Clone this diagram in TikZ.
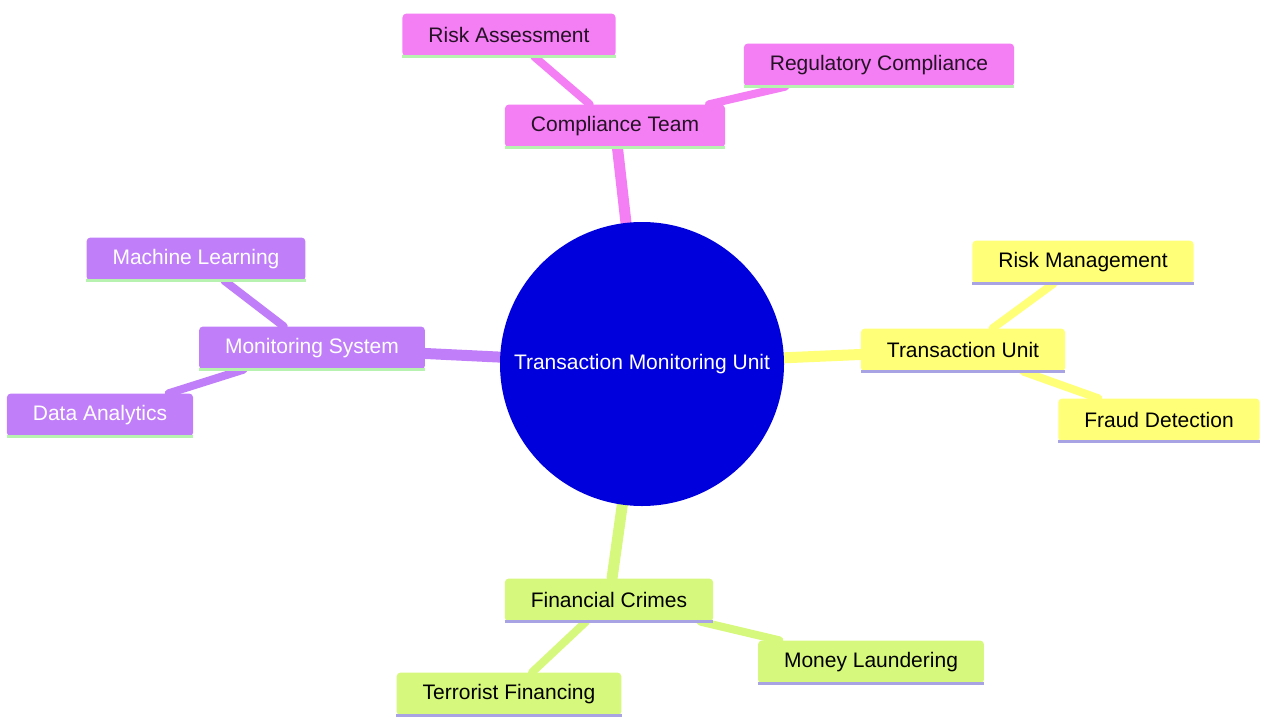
\documentclass[tikz,border=0pt]{standalone}
\usepackage{fontspec}
\setmainfont{Liberation Sans}
\usetikzlibrary{backgrounds}

\definecolor{rosa}{HTML}{F47EF4}
\definecolor{morado}{HTML}{C07FF8}
\definecolor{amarillo}{HTML}{FFFF78}
\definecolor{verde}{HTML}{D6F87C}
\definecolor{azul}{HTML}{0000DD}
\definecolor{lineaverde}{HTML}{B8F2B0}
\definecolor{linealila}{HTML}{A8A4E4}

\tikzset{
  caja/.style 2 args={rectangle, rounded corners=4pt, minimum height=43pt,
    inner xsep=26pt, inner ysep=0pt, fill=#1,
    font=\fontsize{21}{25}\selectfont,
    append after command={(\tikzlastnode.south west) edge[draw=#2, line width=3pt]
      (\tikzlastnode.south east)}},
  nrosa/.style={caja={rosa}{lineaverde}, text=black!85!rosa},
  nmorado/.style={caja={morado}{lineaverde}, text=white},
  namarillo/.style={caja={amarillo}{linealila}, text=black},
  nverde/.style={caja={verde}{linealila}, text=black},
  raiz/.style={circle, fill=azul, text=white, minimum size=284pt,
    font=\fontsize{21}{25}\selectfont},
  rama/.style={line width=#1, line cap=round}
}

\begin{document}
\begin{tikzpicture}[x=1pt, y=-1pt]
  \useasboundingbox (0,0) rectangle (1261,718);

  % nodos
  \node [raiz] (tmu) at (642,364) {Transaction Monitoring Unit};

  \node [nrosa] (ct) at (615,126) {Compliance Team};
  \node [nrosa] (ra) at (509,35) {Risk Assessment};
  \node [nrosa] (rc) at (879,65) {Regulatory Compliance};

  \node [nmorado] (ms) at (312,348) {Monitoring System};
  \node [nmorado] (ml) at (196,259) {Machine Learning};
  \node [nmorado] (da) at (100,415) {Data Analytics};

  \node [namarillo] (tu) at (963,350) {Transaction Unit};
  \node [namarillo] (rm) at (1083,262) {Risk Management};
  \node [namarillo] (fd) at (1159,420) {Fraud Detection};

  \node [nverde] (fc) at (609,600) {Financial Crimes};
  \node [nverde] (mlaund) at (871,662) {Money Laundering};
  \node [nverde] (tf) at (509,694) {Terrorist Financing};

  % ramas
  \begin{pgfonlayer}{background}
    \path [rama=11pt]
      (tmu) edge [draw=rosa] (ct)
      (tmu) edge [draw=morado] (ms)
      (tmu) edge [draw=amarillo] (tu)
      (tmu) edge [draw=verde] (fc);
    \path [rama=8pt, draw=rosa]
      (ct) edge (ra)
      (ct) edge (rc);
    \path [rama=8pt, draw=morado]
      (ms) edge (ml)
      (ms) edge (da);
    \path [rama=8pt, draw=amarillo]
      (tu) edge (rm)
      (tu) edge (fd);
    \path [rama=8pt, draw=verde]
      (fc) edge (mlaund)
      (fc) edge (tf);
  \end{pgfonlayer}
\end{tikzpicture}
\end{document}
